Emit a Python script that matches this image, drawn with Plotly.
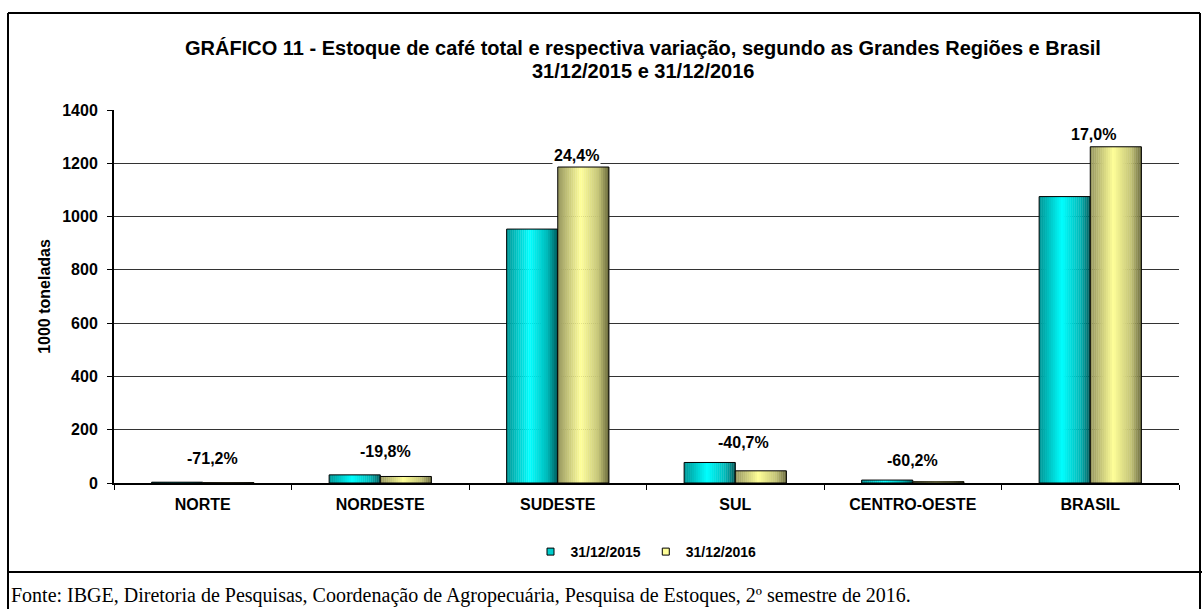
import plotly.graph_objects as go

# ---------------- data ----------------
categories = ["NORTE", "NORDESTE", "SUDESTE", "SUL", "CENTRO-OESTE", "BRASIL"]
stock_2015 = [3.0, 30.5, 953, 77, 11, 1075]
stock_2016 = [0.9, 24.5, 1186, 45.7, 4.4, 1262]
variation_labels = ["-71,2%", "-19,8%", "24,4%", "-40,7%", "-60,2%", "17,0%"]
series_names = ["31/12/2015", "31/12/2016"]
y_ticks = [0, 200, 400, 600, 800, 1000, 1200, 1400]

title_lines = ["GRÁFICO 11 - Estoque de café total e respectiva variação, segundo as Grandes Regiões e Brasil",
               "31/12/2015 e 31/12/2016"]
y_title = "1000 toneladas"
source_text = ("Fonte: IBGE, Diretoria de Pesquisas, Coordenação de Agropecuária, "
               "Pesquisa de Estoques, 2º semestre de 2016.")

# ---------------- styles / layout ----------------
W, H = 1202, 609
L, R, T, B = 114, 1179, 110, 483
FONT = "Liberation Sans, Arial, sans-serif"

def px(x):
    return (x - L) / (R - L)

def py(y):
    return (B - y) / (B - T)

BAR_W = 0.288
N_STRIPS = 26
# gradient stops (position, rgb)
grad_2015 = [(0.0, (0, 150, 150)), (0.45, (0, 255, 255)), (0.8, (0, 185, 185)), (1.0, (0, 90, 90))]
grad_2016 = [(0.0, (150, 150, 95)), (0.45, (255, 255, 153)), (0.8, (195, 195, 118)), (1.0, (105, 105, 60))]
solid_colors = ["#00CCCC", "#FFFF99"]

label_dx = [10, 5, 19, 8, 0, 3]
label_dy = [24, 23, 12, 20, 20, 12]
title_y_px = [48, 71]


def interp(stops, t):
    for (p0, c0), (p1, c1) in zip(stops[:-1], stops[1:]):
        if p0 <= t <= p1:
            f = (t - p0) / (p1 - p0) if p1 > p0 else 0
            return "rgb(%d,%d,%d)" % tuple(round(a + (b - a) * f) for a, b in zip(c0, c1))
    return "rgb(%d,%d,%d)" % stops[-1][1]


fig = go.Figure()

for values, stops, base in [(stock_2015, grad_2015, -BAR_W), (stock_2016, grad_2016, 0.0)]:
    sw = BAR_W / N_STRIPS
    for i in range(N_STRIPS):
        t = (i + 0.5) / N_STRIPS
        fig.add_trace(go.Bar(
            x=categories, y=values, width=sw * 1.15, offset=base + i * sw,
            marker=dict(color=interp(stops, t), line=dict(width=0)),
            showlegend=False, hoverinfo="skip",
        ))
    # outline
    fig.add_trace(go.Bar(
        x=categories, y=values, width=BAR_W, offset=base,
        marker=dict(color="rgba(0,0,0,0)", line=dict(color="black", width=1)),
        showlegend=False, hoverinfo="skip",
    ))

# legend entries
for name, col in zip(series_names, solid_colors):
    fig.add_trace(go.Scatter(
        x=[None], y=[None], mode="markers", name=name,
        marker=dict(symbol="square", size=7, color=col, line=dict(color="black", width=1)),
    ))

annotations = []
for cat, a, b, lab, dx, dy in zip(categories, stock_2015, stock_2016, variation_labels, label_dx, label_dy):
    annotations.append(dict(
        x=cat, y=max(a, b), xref="x", yref="y", text=lab, showarrow=False,
        xanchor="center", yanchor="middle", xshift=dx, yshift=dy,
        font=dict(family=FONT, size=16, color="black", weight="bold"), bgcolor="white", borderpad=1,
    ))

for line, ypx in zip(title_lines, title_y_px):
    annotations.append(dict(
        x=px(643), y=py(ypx), xref="paper", yref="paper", text=line, showarrow=False,
        xanchor="center", yanchor="middle",
        font=dict(family=FONT, size=20, color="black", weight="bold"),
    ))

annotations.append(dict(
    x=px(9), y=py(595), xref="paper", yref="paper", text=source_text, showarrow=False,
    xanchor="left", yanchor="middle",
    font=dict(family="Liberation Serif, Times New Roman, serif", size=20, color="black"),
))

shapes = [
    # outer frame
    dict(type="line", xref="paper", yref="paper", x0=px(8), x1=px(1200), y0=py(13), y1=py(13),
         line=dict(color="black", width=2)),
    dict(type="line", xref="paper", yref="paper", x0=px(8), x1=px(8), y0=py(13), y1=py(612),
         line=dict(color="black", width=2)),
    dict(type="line", xref="paper", yref="paper", x0=px(1200), x1=px(1200), y0=py(13), y1=py(612),
         line=dict(color="black", width=2)),
    dict(type="line", xref="paper", yref="paper", x0=px(8), x1=px(1202), y0=py(572), y1=py(572),
         line=dict(color="black", width=2)),
]

fig.update_layout(
    width=W, height=H,
    margin=dict(l=L, r=W - R, t=T, b=H - B, pad=0),
    paper_bgcolor="white", plot_bgcolor="white",
    barmode="overlay",
    font=dict(family=FONT, color="black"),
    showlegend=True,
    legend=dict(orientation="h", x=px(646), xanchor="center", y=py(552), yanchor="middle",
                font=dict(family=FONT, size=14, color="black", weight="bold"),
                bgcolor="rgba(0,0,0,0)", itemwidth=30, tracegroupgap=0),
    annotations=annotations,
    shapes=shapes,
)

fig.update_xaxes(
    type="category", showgrid=False, showline=True, linecolor="black", linewidth=2,
    ticks="outside", tickson="boundaries", ticklen=5, tickcolor="black", tickwidth=1,
    tickfont=dict(family=FONT, size=16, color="black", weight="bold"), ticklabelstandoff=6,
    range=[-0.5, 5.5], fixedrange=True,
)
fig.update_yaxes(
    range=[0, 1400], tickvals=y_ticks, showgrid=True, gridcolor="#333333", gridwidth=1,
    showline=True, linecolor="black", linewidth=2, zeroline=False,
    ticks="outside", ticklen=5, tickcolor="black", tickwidth=1,
    tickfont=dict(family=FONT, size=16, color="black", weight="bold"), ticklabelstandoff=6,
    title=dict(text=y_title, font=dict(family=FONT, size=16, color="black", weight="bold"), standoff=8),
    fixedrange=True,
)

fig.write_html("out.html", config={"displayModeBar": False},
               post_script="document.body.style.margin='0px';")
